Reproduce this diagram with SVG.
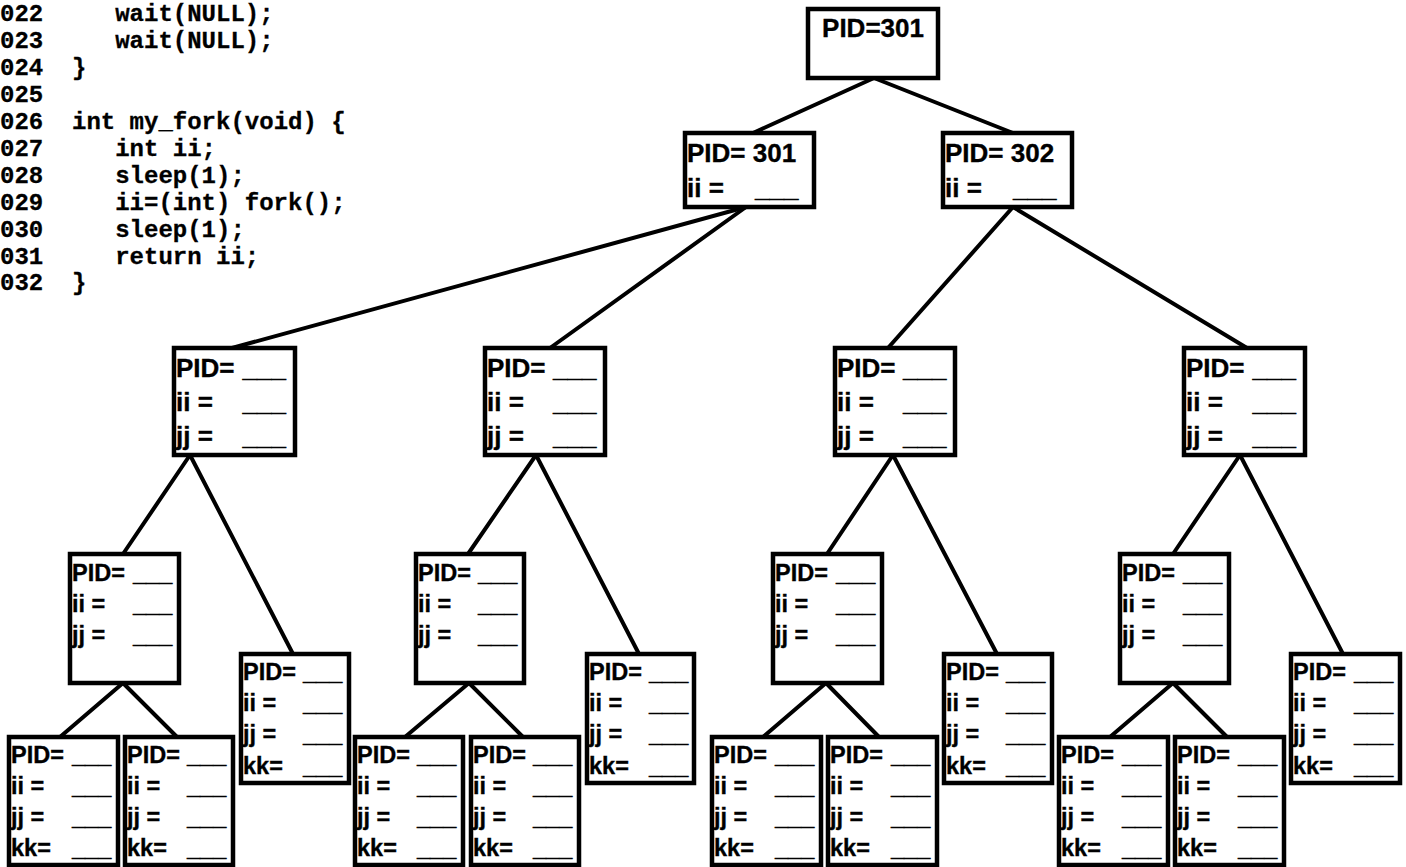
<svg xmlns="http://www.w3.org/2000/svg" width="1406" height="867" viewBox="0 0 1406 867">
<style>
.b{fill:#fff;stroke:#000;stroke-width:4.5}
.c line{stroke:#000;stroke-width:4;stroke-linecap:round}
.t{font-family:"Liberation Sans",Arial,sans-serif;font-weight:bold;font-size:26px;fill:#000;stroke:#000;stroke-width:0.35}
.s{font-size:23.5px}
.code{font-family:"Liberation Mono","Courier New",monospace;font-weight:bold;font-size:24px;fill:#000;stroke:#000;stroke-width:0.3}
</style>
<rect width="1406" height="867" fill="#fff"/>
<g id="code" class="code">
<text x="0" y="21">022</text><text x="115.2" y="21">wait(NULL);</text>
<text x="0" y="48">023</text><text x="115.2" y="48">wait(NULL);</text>
<text x="0" y="75">024</text><text x="72" y="75">}</text>
<text x="0" y="102">025</text>
<text x="0" y="129">026</text><text x="72" y="129">int my_fork(void) {</text>
<text x="0" y="156">027</text><text x="115.2" y="156">int ii;</text>
<text x="0" y="183">028</text><text x="115.2" y="183">sleep(1);</text>
<text x="0" y="210">029</text><text x="115.2" y="210">ii=(int) fork();</text>
<text x="0" y="237">030</text><text x="115.2" y="237">sleep(1);</text>
<text x="0" y="264">031</text><text x="115.2" y="264">return ii;</text>
<text x="0" y="290">032</text><text x="72" y="290">}</text>
</g>
<g id="connectors" class="c">
<line x1="874" y1="78" x2="753" y2="133"/>
<line x1="874" y1="78" x2="1013" y2="133"/>
<line x1="746" y1="207" x2="232" y2="348"/>
<line x1="746" y1="207" x2="550" y2="348"/>
<line x1="1013" y1="207" x2="888" y2="348"/>
<line x1="1013" y1="207" x2="1247" y2="348"/>
<line x1="190" y1="455" x2="123" y2="554"/>
<line x1="190" y1="455" x2="293" y2="654"/>
<line x1="123" y1="683" x2="60" y2="737"/>
<line x1="123" y1="683" x2="177" y2="737"/>
<line x1="536" y1="455" x2="468" y2="554"/>
<line x1="536" y1="455" x2="639" y2="654"/>
<line x1="469" y1="683" x2="405" y2="737"/>
<line x1="469" y1="683" x2="523" y2="737"/>
<line x1="893" y1="455" x2="827" y2="554"/>
<line x1="893" y1="455" x2="997" y2="654"/>
<line x1="826" y1="683" x2="763" y2="737"/>
<line x1="826" y1="683" x2="879" y2="737"/>
<line x1="1240" y1="455" x2="1173" y2="554"/>
<line x1="1240" y1="455" x2="1343" y2="654"/>
<line x1="1173" y1="683" x2="1110" y2="737"/>
<line x1="1173" y1="683" x2="1227" y2="737"/>
</g>
<g id="root" class="t">
<rect class="b" x="808" y="9" width="130" height="69"/>
<text x="873" y="37" text-anchor="middle">PID=301</text>
</g>
<g id="p301" class="t">
<rect class="b" x="685" y="133" width="129" height="74"/>
<text x="687" y="162">PID= 301</text>
<text x="687" y="197">ii =</text><text x="755" y="197">___</text>
</g>
<g id="p302" class="t">
<rect class="b" x="943" y="133" width="129" height="74"/>
<text x="945" y="162">PID= 302</text>
<text x="945" y="197">ii =</text><text x="1013" y="197">___</text>
</g>
<g id="l3a" class="t">
<rect class="b" x="174" y="348" width="121" height="107"/>
<text x="176" y="377">PID=</text><text x="242.5" y="377">___</text>
<text x="176" y="411">ii =</text><text x="242.5" y="411">___</text>
<text x="176" y="445">jj =</text><text x="242.5" y="445">___</text>
</g>
<g id="l3b" class="t">
<rect class="b" x="485" y="348" width="120" height="107"/>
<text x="487" y="377">PID=</text><text x="553" y="377">___</text>
<text x="487" y="411">ii =</text><text x="553" y="411">___</text>
<text x="487" y="445">jj =</text><text x="553" y="445">___</text>
</g>
<g id="l3c" class="t">
<rect class="b" x="835" y="348" width="120" height="107"/>
<text x="837" y="377">PID=</text><text x="903" y="377">___</text>
<text x="837" y="411">ii =</text><text x="903" y="411">___</text>
<text x="837" y="445">jj =</text><text x="903" y="445">___</text>
</g>
<g id="l3d" class="t">
<rect class="b" x="1184" y="348" width="121" height="107"/>
<text x="1186" y="377">PID=</text><text x="1252.5" y="377">___</text>
<text x="1186" y="411">ii =</text><text x="1252.5" y="411">___</text>
<text x="1186" y="445">jj =</text><text x="1252.5" y="445">___</text>
</g>
<g id="l4a" class="t s">
<rect class="b" x="70" y="554" width="109" height="129"/>
<text x="72" y="581">PID=</text><text x="133" y="581">___</text>
<text x="72" y="612">ii =</text><text x="133" y="612">___</text>
<text x="72" y="643">jj =</text><text x="133" y="643">___</text>
</g>
<g id="l4b" class="t s">
<rect class="b" x="416" y="554" width="108" height="129"/>
<text x="418" y="581">PID=</text><text x="478" y="581">___</text>
<text x="418" y="612">ii =</text><text x="478" y="612">___</text>
<text x="418" y="643">jj =</text><text x="478" y="643">___</text>
</g>
<g id="l4c" class="t s">
<rect class="b" x="773" y="554" width="109" height="129"/>
<text x="775" y="581">PID=</text><text x="836" y="581">___</text>
<text x="775" y="612">ii =</text><text x="836" y="612">___</text>
<text x="775" y="643">jj =</text><text x="836" y="643">___</text>
</g>
<g id="l4d" class="t s">
<rect class="b" x="1120" y="554" width="109" height="129"/>
<text x="1122" y="581">PID=</text><text x="1183" y="581">___</text>
<text x="1122" y="612">ii =</text><text x="1183" y="612">___</text>
<text x="1122" y="643">jj =</text><text x="1183" y="643">___</text>
</g>
<g id="k4a" class="t s">
<rect class="b" x="241" y="654" width="108" height="129"/>
<text x="243" y="680">PID=</text><text x="303" y="680">___</text>
<text x="243" y="711">ii =</text><text x="303" y="711">___</text>
<text x="243" y="742">jj =</text><text x="303" y="742">___</text>
<text x="243" y="774">kk=</text><text x="303" y="774">___</text>
</g>
<g id="k4b" class="t s">
<rect class="b" x="587" y="654" width="107" height="129"/>
<text x="589" y="680">PID=</text><text x="649" y="680">___</text>
<text x="589" y="711">ii =</text><text x="649" y="711">___</text>
<text x="589" y="742">jj =</text><text x="649" y="742">___</text>
<text x="589" y="774">kk=</text><text x="649" y="774">___</text>
</g>
<g id="k4c" class="t s">
<rect class="b" x="944" y="654" width="108" height="129"/>
<text x="946" y="680">PID=</text><text x="1006" y="680">___</text>
<text x="946" y="711">ii =</text><text x="1006" y="711">___</text>
<text x="946" y="742">jj =</text><text x="1006" y="742">___</text>
<text x="946" y="774">kk=</text><text x="1006" y="774">___</text>
</g>
<g id="k4d" class="t s">
<rect class="b" x="1291" y="654" width="109" height="129"/>
<text x="1293" y="680">PID=</text><text x="1354" y="680">___</text>
<text x="1293" y="711">ii =</text><text x="1354" y="711">___</text>
<text x="1293" y="742">jj =</text><text x="1354" y="742">___</text>
<text x="1293" y="774">kk=</text><text x="1354" y="774">___</text>
</g>
<g id="l5a1" class="t s">
<rect class="b" x="9" y="737" width="109" height="128"/>
<text x="11" y="763">PID=</text><text x="72" y="763">___</text>
<text x="11" y="794">ii =</text><text x="72" y="794">___</text>
<text x="11" y="825">jj =</text><text x="72" y="825">___</text>
<text x="11" y="856">kk=</text><text x="72" y="856">___</text>
</g>
<g id="l5a2" class="t s">
<rect class="b" x="125" y="737" width="108" height="128"/>
<text x="127" y="763">PID=</text><text x="187" y="763">___</text>
<text x="127" y="794">ii =</text><text x="187" y="794">___</text>
<text x="127" y="825">jj =</text><text x="187" y="825">___</text>
<text x="127" y="856">kk=</text><text x="187" y="856">___</text>
</g>
<g id="l5b1" class="t s">
<rect class="b" x="355" y="737" width="108" height="128"/>
<text x="357" y="763">PID=</text><text x="417" y="763">___</text>
<text x="357" y="794">ii =</text><text x="417" y="794">___</text>
<text x="357" y="825">jj =</text><text x="417" y="825">___</text>
<text x="357" y="856">kk=</text><text x="417" y="856">___</text>
</g>
<g id="l5b2" class="t s">
<rect class="b" x="471" y="737" width="108" height="128"/>
<text x="473" y="763">PID=</text><text x="533" y="763">___</text>
<text x="473" y="794">ii =</text><text x="533" y="794">___</text>
<text x="473" y="825">jj =</text><text x="533" y="825">___</text>
<text x="473" y="856">kk=</text><text x="533" y="856">___</text>
</g>
<g id="l5c1" class="t s">
<rect class="b" x="712" y="737" width="109" height="128"/>
<text x="714" y="763">PID=</text><text x="775" y="763">___</text>
<text x="714" y="794">ii =</text><text x="775" y="794">___</text>
<text x="714" y="825">jj =</text><text x="775" y="825">___</text>
<text x="714" y="856">kk=</text><text x="775" y="856">___</text>
</g>
<g id="l5c2" class="t s">
<rect class="b" x="828" y="737" width="109" height="128"/>
<text x="830" y="763">PID=</text><text x="891" y="763">___</text>
<text x="830" y="794">ii =</text><text x="891" y="794">___</text>
<text x="830" y="825">jj =</text><text x="891" y="825">___</text>
<text x="830" y="856">kk=</text><text x="891" y="856">___</text>
</g>
<g id="l5d1" class="t s">
<rect class="b" x="1059" y="737" width="109" height="128"/>
<text x="1061" y="763">PID=</text><text x="1122" y="763">___</text>
<text x="1061" y="794">ii =</text><text x="1122" y="794">___</text>
<text x="1061" y="825">jj =</text><text x="1122" y="825">___</text>
<text x="1061" y="856">kk=</text><text x="1122" y="856">___</text>
</g>
<g id="l5d2" class="t s">
<rect class="b" x="1175" y="737" width="109" height="128"/>
<text x="1177" y="763">PID=</text><text x="1238" y="763">___</text>
<text x="1177" y="794">ii =</text><text x="1238" y="794">___</text>
<text x="1177" y="825">jj =</text><text x="1238" y="825">___</text>
<text x="1177" y="856">kk=</text><text x="1238" y="856">___</text>
</g>
</svg>
